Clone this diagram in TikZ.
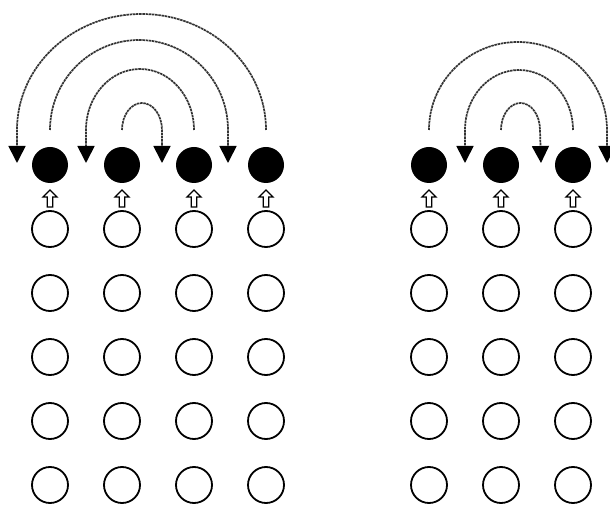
\documentclass[tikz,border=0pt]{standalone}
\usetikzlibrary{arrows.meta,calc}
\tikzset{
  >={Triangle[length=17pt,width=17pt,color=black]},
  bead/.style={circle,fill=black,minimum size=36pt,inner sep=0pt},
  hole/.style={circle,draw=black,line width=1.8pt,minimum size=36pt,inner sep=0pt},
  hop/.style={->,draw=black!80,line width=1.7pt,dash pattern=on 2.5pt off 0.7pt},
  % pictograms
  pics/lift/.style={code={
    \draw[black,line width=1.3pt,fill=white] (-2.8,-10) -- (-2.8,0) -- (-7,0) -- (0,7)
      -- (7,0) -- (2.8,0) -- (2.8,-10) -- cycle;
  }},
}

\begin{document}
\begin{tikzpicture}[x=1pt,y=1pt]
    \useasboundingbox (0,0) rectangle (610,506);
    % left block
    \foreach \i in {1,...,4}{
      \node[bead] (L\i) at (50+72*\i-72,341) {};
      \foreach \r in {1,...,5} \node[hole] (L\i-\r) at (50+72*\i-72,341-64*\r) {};
      \pic at ($(L\i)!0.5!(L\i-1)$) {lift};
    }
    % right block
    \foreach \i in {1,2,3}{
      \node[bead] (R\i) at (429+72*\i-72,341) {};
      \foreach \r in {1,...,5} \node[hole] (R\i-\r) at (429+72*\i-72,341-64*\r) {};
      \pic at ($(R\i)!0.5!(R\i-1)$) {lift};
    }
    \coordinate (g0) at (17,343);
    \coordinate (g1) at (86,343);
    \coordinate (g2) at (162,343);
    \coordinate (g3) at (228,343);
    \coordinate (h1) at (465,343);
    \coordinate (h2) at (541,343);
    \coordinate (h3) at (607,343);
    \foreach \s/\e/\a/\b/\rx/\ry in {L4/g0/0/180/124.5/116, L1/g3/180/0/89/90,
        L3/g1/0/180/54/61, L2/g2/180/0/20/27,
        R1/h3/180/0/89/88, R3/h1/0/180/54/60, R2/h2/180/0/19.5/27}
      \draw[hop] ([yshift=35pt]\s.center) arc[start angle=\a,end angle=\b,x radius=\rx,y radius=\ry] -- (\e);
  \end{tikzpicture}
\end{document}
